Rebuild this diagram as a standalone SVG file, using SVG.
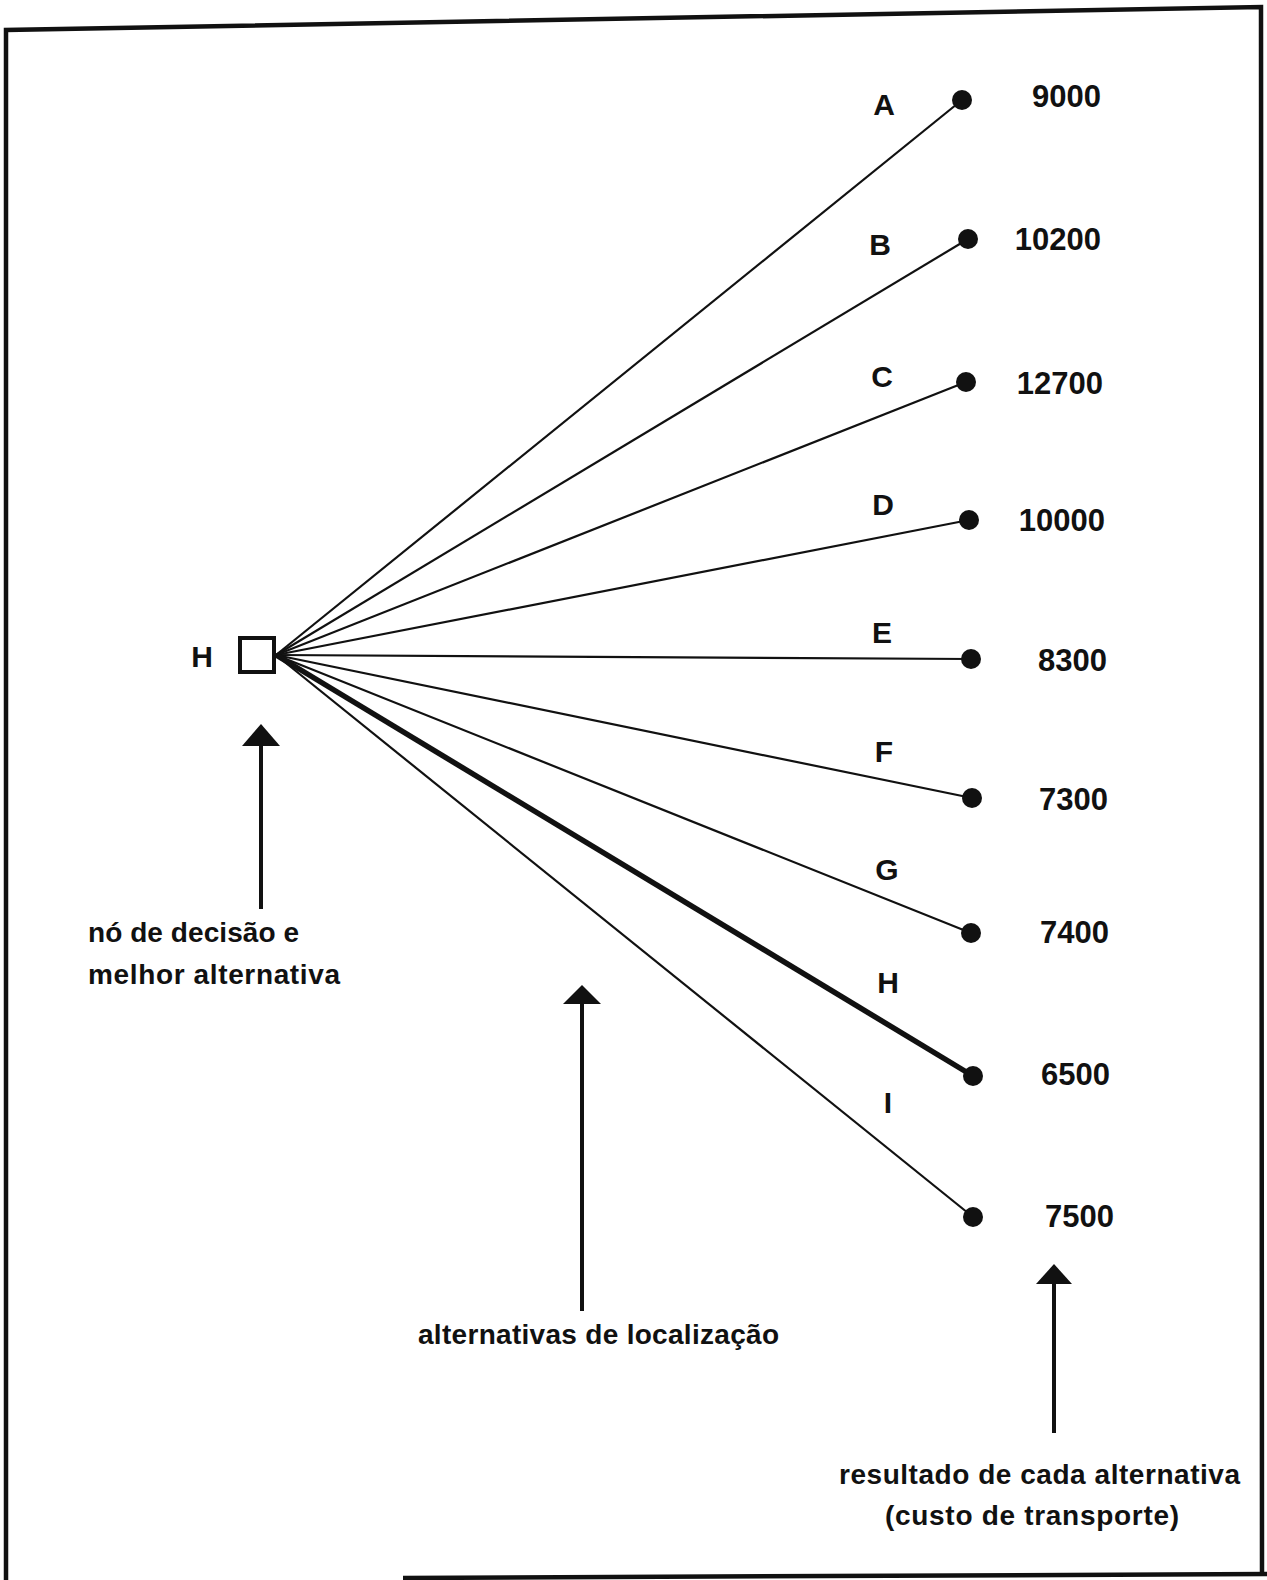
<svg xmlns="http://www.w3.org/2000/svg" width="1267" height="1580" viewBox="0 0 1267 1580">
<style>
.t{font-family:"Liberation Sans",Arial,sans-serif;font-weight:bold;fill:#111;}
.lbl{font-size:30px;text-anchor:middle;}
.num{font-size:31px;text-anchor:end;}
.cap{font-size:28px;}
.ln{stroke:#111;stroke-width:2.2;fill:none;}
.dot{fill:#111;}
.shaft{stroke:#111;stroke-width:4;}
.head{fill:#111;}
</style>
<rect width="1267" height="1580" fill="#fff"/>
<g id="frame" fill="none" stroke="#111" stroke-width="4.5">
<polyline points="6,1580 6,30 1261,7 1262,1575"/>
<line x1="403" y1="1578" x2="1267" y2="1574"/>
</g>
<g id="connectors">
<line class="ln" x1="276" y1="655" x2="962" y2="100"/>
<line class="ln" x1="276" y1="655" x2="968" y2="239"/>
<line class="ln" x1="276" y1="655" x2="966" y2="382"/>
<line class="ln" x1="276" y1="655" x2="969" y2="520"/>
<line class="ln" x1="276" y1="655" x2="971" y2="659"/>
<line class="ln" x1="276" y1="655" x2="972" y2="798"/>
<line class="ln" x1="276" y1="655" x2="971" y2="933"/>
<line class="ln" x1="276" y1="655" x2="973" y2="1076" style="stroke-width:5.5"/>
<line class="ln" x1="276" y1="655" x2="973" y2="1217"/>
</g>
<g id="decision-node">
<rect x="240" y="638" width="34" height="34" fill="#fff" stroke="#111" stroke-width="4"/>
<text class="t lbl" x="202" y="667">H</text>
</g>
<g id="node-A"><circle class="dot" cx="962" cy="100" r="10"/><text class="t lbl" x="884" y="115">A</text><text class="t num" x="1101" y="107">9000</text></g>
<g id="node-B"><circle class="dot" cx="968" cy="239" r="10"/><text class="t lbl" x="880" y="255">B</text><text class="t num" x="1101" y="250">10200</text></g>
<g id="node-C"><circle class="dot" cx="966" cy="382" r="10"/><text class="t lbl" x="882" y="387">C</text><text class="t num" x="1103" y="394">12700</text></g>
<g id="node-D"><circle class="dot" cx="969" cy="520" r="10"/><text class="t lbl" x="883" y="515">D</text><text class="t num" x="1105" y="531">10000</text></g>
<g id="node-E"><circle class="dot" cx="971" cy="659" r="10"/><text class="t lbl" x="882" y="643">E</text><text class="t num" x="1107" y="671">8300</text></g>
<g id="node-F"><circle class="dot" cx="972" cy="798" r="10"/><text class="t lbl" x="884" y="762">F</text><text class="t num" x="1108" y="810">7300</text></g>
<g id="node-G"><circle class="dot" cx="971" cy="933" r="10"/><text class="t lbl" x="887" y="880">G</text><text class="t num" x="1109" y="943">7400</text></g>
<g id="node-H"><circle class="dot" cx="973" cy="1076" r="10"/><text class="t lbl" x="888" y="993">H</text><text class="t num" x="1110" y="1085">6500</text></g>
<g id="node-I"><circle class="dot" cx="973" cy="1217" r="10"/><text class="t lbl" x="888" y="1113">I</text><text class="t num" x="1114" y="1227">7500</text></g>
<g id="annot-decision">
<line class="shaft" x1="261" y1="742" x2="261" y2="909"/>
<polygon class="head" points="261,724 280,746 242,746"/>
<text class="t cap" x="88" y="942" textLength="211" lengthAdjust="spacing">nó de decisão e</text>
<text class="t cap" x="88" y="984" textLength="252" lengthAdjust="spacing">melhor alternativa</text>
</g>
<g id="annot-alternatives">
<line class="shaft" x1="582" y1="1000" x2="582" y2="1311"/>
<polygon class="head" points="582,985 601,1004 563,1004"/>
<text class="t cap" x="418" y="1344" textLength="361" lengthAdjust="spacing">alternativas de localização</text>
</g>
<g id="annot-result">
<line class="shaft" x1="1054" y1="1280" x2="1054" y2="1433"/>
<polygon class="head" points="1054,1264 1072,1284 1036,1284"/>
<text class="t cap" x="839" y="1484" textLength="401" lengthAdjust="spacing">resultado de cada alternativa</text>
<text class="t cap" x="885" y="1525" textLength="294" lengthAdjust="spacing">(custo de transporte)</text>
</g>
</svg>
